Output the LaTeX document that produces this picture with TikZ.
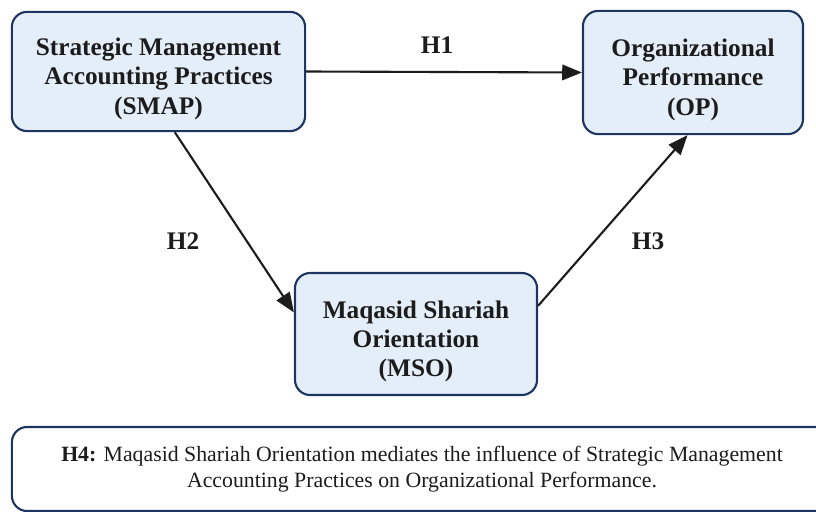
\documentclass[tikz,border=0pt]{standalone}
\usepackage{fontspec}
\setmainfont{Liberation Serif}
\usepackage{tikz}
\usetikzlibrary{arrows.meta,positioning,calc}
\definecolor{boxline}{HTML}{1E3461}
\definecolor{boxfill}{HTML}{E4EEF9}
\definecolor{txt}{HTML}{1C1C1C}
\newcommand{\topgap}{\rule{0pt}{23pt}}
\begin{document}
\begin{tikzpicture}[x=0.025cm,y=-0.025cm,
  varbox/.style={draw=boxline,line width=1.5pt,fill=boxfill,rounded corners=0.38cm,
    align=center,text=txt,font=\fontsize{18}{20.7}\selectfont\bfseries,inner sep=0pt},
  notebox/.style={draw=boxline,line width=1.5pt,fill=white,rounded corners=0.38cm,
    align=center,text=txt,font=\fontsize{15.5}{18.4}\selectfont,inner sep=0pt},
  hyp/.style={-{Triangle[length=14pt,width=11pt]},line width=1.5pt,txt},
  hlab/.style={text=txt,font=\fontsize{18}{20}\selectfont\bfseries}]
  \useasboundingbox (0,0) rectangle (816,512);
  % Konstrukte
  \node[varbox,minimum width=7.33cm,minimum height=2.98cm] (smap) at (158.5,71.5)
    {\topgap Strategic Management\\Accounting Practices\\(SMAP)};
  \node[varbox,minimum width=5.5cm,minimum height=3.08cm] (op) at (693,72.5)
    {\topgap Organizational\\Performance\\(OP)};
  \node[varbox,minimum width=6.05cm,minimum height=3.05cm] (mso) at (416,334)
    {\topgap Maqasid Shariah\\Orientation\\(MSO)};
  % Hypothesen H1--H3
  \draw[hyp] (smap.east) -- (op.west);
  \draw[hyp] (smap.-75) -- (mso.170);
  \draw[hyp] (mso.13) -- (op.-95);
  \node[hlab] (h1) at (437,45) {H1};
  \node[hlab] (h2) at (183,241) {H2};
  \node[hlab] (h3) at (648,241) {H3};
  % Mediation (H4)
  \node[notebox,minimum width=20.5cm,minimum height=2.1cm] (h4) at (422,469)
    {\textbf{H4:} Maqasid Shariah Orientation mediates the influence of Strategic Management\\
     Accounting Practices on Organizational Performance.};
\end{tikzpicture}
\end{document}
